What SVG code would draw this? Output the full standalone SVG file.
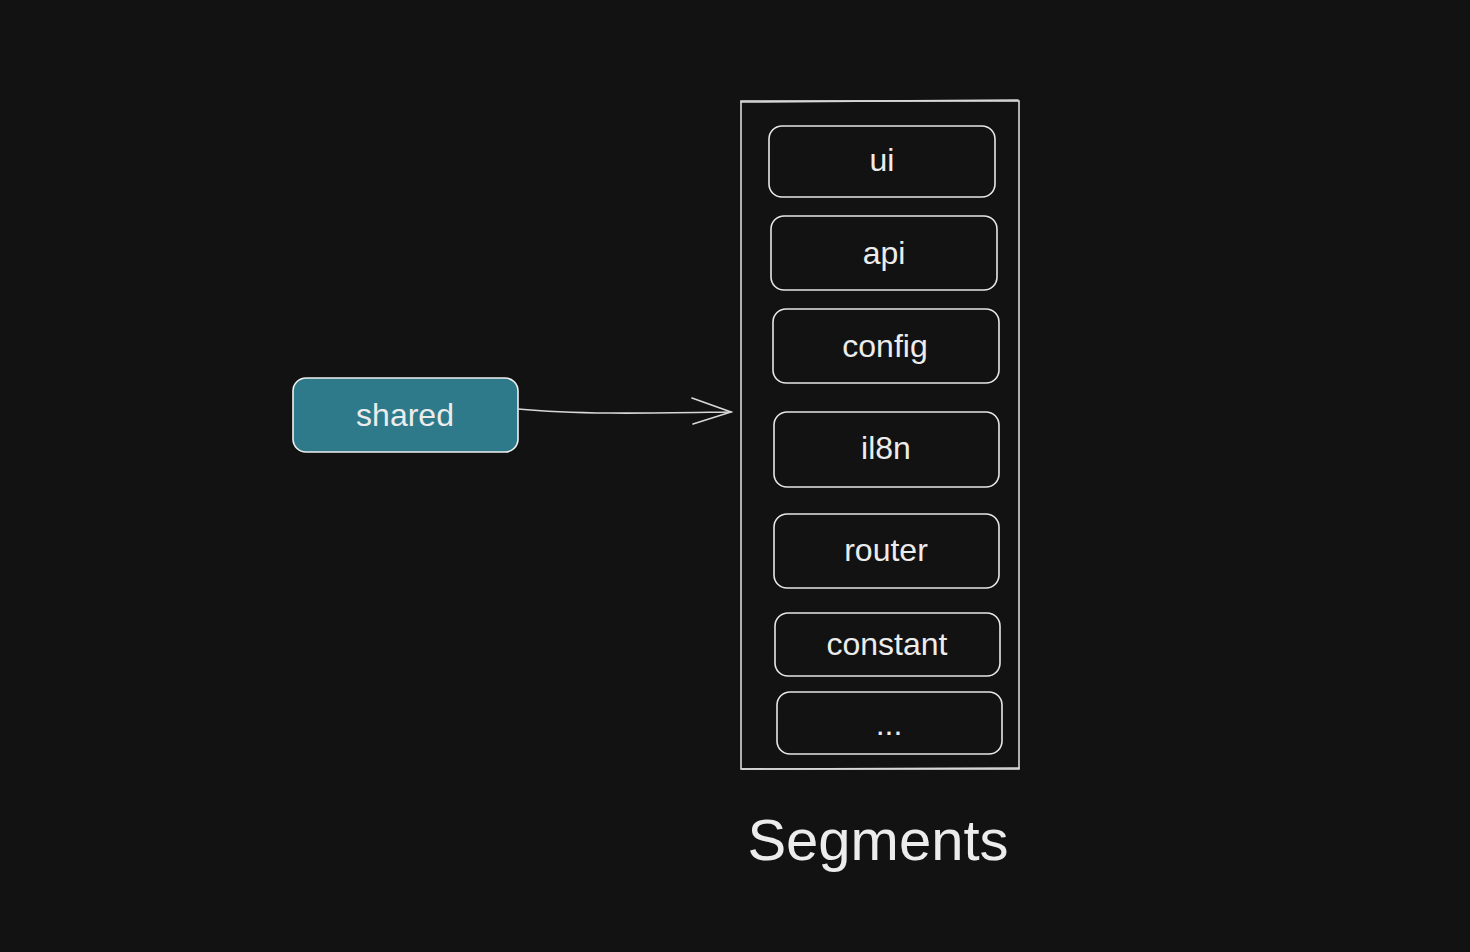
<svg xmlns="http://www.w3.org/2000/svg" width="1470" height="952" viewBox="0 0 1470 952">
<style>
.box{fill:none;stroke:#e6e6e6;stroke-width:1.6}
.lbl{font-family:"Liberation Sans",Arial,sans-serif;font-size:32px;fill:#ececec;text-anchor:middle}
.conn{fill:none;stroke:#d8d8d8;stroke-width:1.6;stroke-linecap:round}
</style>
<rect width="1470" height="952" fill="#121212"/>
<g id="segments-container">
<rect x="741" y="101" width="278" height="668" fill="none" stroke="#e6e6e6" stroke-width="1.5"/>
<path d="M741 102 L1018 100" class="conn" stroke-width="0.8"/>
<path d="M742 769 L1019 768" class="conn" stroke-width="0.8"/>
</g>
<g id="node-ui"><rect class="box" x="769" y="126" width="226" height="71" rx="13"/><text class="lbl" x="882" y="171">ui</text></g>
<g id="node-api"><rect class="box" x="771" y="216" width="226" height="74" rx="13"/><text class="lbl" x="884" y="264">api</text></g>
<g id="node-config"><rect class="box" x="773" y="309" width="226" height="74" rx="13"/><text class="lbl" x="885" y="357">config</text></g>
<g id="node-il8n"><rect class="box" x="774" y="412" width="225" height="75" rx="13"/><text class="lbl" x="886" y="459">il8n</text></g>
<g id="node-router"><rect class="box" x="774" y="514" width="225" height="74" rx="13"/><text class="lbl" x="886" y="561">router</text></g>
<g id="node-constant"><rect class="box" x="775" y="613" width="225" height="63" rx="13"/><text class="lbl" x="887" y="655">constant</text></g>
<g id="node-more"><rect class="box" x="777" y="692" width="225" height="62" rx="13"/><text class="lbl" x="889" y="735">...</text></g>
<g id="node-shared"><rect x="293" y="378" width="225" height="74" rx="13" fill="#2e7a8a" stroke="#f0f0f0" stroke-width="1.6"/><text class="lbl" x="405" y="426">shared</text></g>
<g id="connectors">
<path class="conn" d="M518 409 C580 415 660 413 731 412"/>
<path class="conn" d="M692 398 L731 412 L693 424"/>
</g>
<g id="title"><text x="878" y="860" font-family="Liberation Sans,Arial,sans-serif" font-size="58" fill="#ececec" text-anchor="middle">Segments</text></g>
</svg>
